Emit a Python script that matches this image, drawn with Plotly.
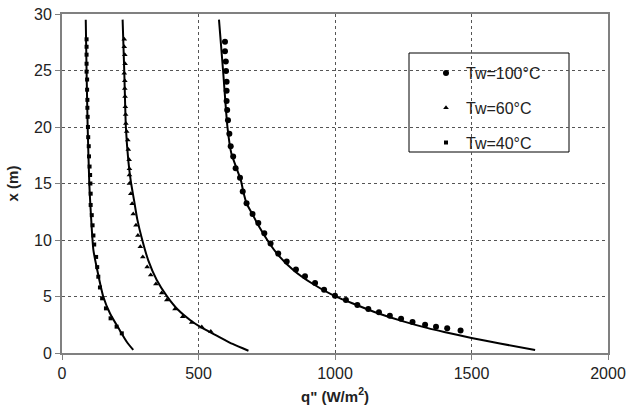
import plotly.graph_objects as go

# Theory curves (x in m, q'' in W/m2)
line100_x = [29.5, 25.0, 20.0, 17.7, 15.3, 14.3, 13.25, 12.4, 11.3, 9.85, 8.67, 7.35, 6.17, 5.1, 4.25, 3.5, 2.8, 2.2, 1.86, 1.33, 0.84, 0.27]
line100_q = [575, 590, 606, 620, 655, 664, 676, 695, 719, 756, 792, 847, 915, 994, 1079, 1160, 1250, 1340, 1400, 1500, 1604, 1733]

line60_x = [29.5, 25.0, 20.0, 17.0, 15.2, 13.5, 11.8, 10.0, 8.2, 6.46, 5.04, 3.8, 2.92, 2.33, 1.5, 0.8, 0.2]
line60_q = [222, 228, 234, 243, 252, 264, 276, 294, 316, 347, 384, 426, 469, 505, 570, 625, 683]

line40_x = [29.5, 25.0, 20.0, 15.0, 13.5, 11.0, 9.1, 7.35, 5.0, 3.5, 2.0, 1.0, 0.27]
line40_q = [87, 90, 94, 100, 103, 109, 115, 129, 151, 176, 212, 237, 261]

# Measured points
pts100_x = [27.55, 26.7, 25.8, 24.96, 24.0, 23.2, 22.3, 21.5, 20.6, 19.4, 18.3, 17.4, 16.35, 15.5, 14.3,
            13.25, 12.3, 11.5, 10.6, 9.7, 8.8, 8.1, 7.4, 6.8, 6.2, 5.6, 5.07, 4.7, 4.25, 3.9, 3.6,
            3.3, 3.04, 2.74, 2.5, 2.33, 2.18, 2.0]
pts100_q = [597, 597, 600, 601, 603, 603, 603, 605, 608, 613, 618, 627, 636, 652, 662,
            676, 698, 719, 741, 764, 792, 823, 857, 890, 927, 960, 1000, 1040, 1082, 1122, 1161,
            1201, 1242, 1284, 1330, 1370, 1411, 1460]

pts60_x = [27.76, 27.1, 26.4, 25.6, 24.75, 24.1, 23.4, 22.7, 21.8, 21.1, 20.3, 19.6, 18.85, 18.0,
           17.1, 16.3, 15.75, 15.0, 14.1, 13.2, 12.3, 11.3, 10.4, 9.4, 8.5, 7.6, 6.9, 6.1, 5.3,
           4.7, 3.9, 3.2, 2.7, 2.3, 1.9]
pts60_q = [228, 228, 230, 231, 228, 230, 230, 231, 232, 233, 234, 237, 241, 243,
           246, 247, 247, 247, 252, 257, 261, 271, 278, 287, 296, 312, 325, 344, 365,
           384, 414, 442, 475, 512, 545]

pts40_x = [27.76, 27.1, 26.4, 25.6, 24.9, 24.2, 23.3, 22.4, 21.7, 20.9, 20.0, 19.1, 18.3, 17.4,
           16.5, 15.75, 15.0, 14.1, 13.1, 12.2, 11.3, 10.4, 9.6, 8.5, 7.6, 6.75, 5.8, 4.84,
           3.95, 3.07, 2.33, 1.74]
pts40_q = [90, 90, 90, 90, 90, 92, 92, 93, 93, 94, 95, 96, 98, 99,
           101, 103, 104, 105, 105, 109, 112, 115, 118, 125, 129, 133, 139, 147,
           161, 178, 200, 219]

series_names = ["Tw=100°C", "Tw=60°C", "Tw=40°C"]

x_ticks = [0, 500, 1000, 1500, 2000]
y_ticks = [0, 5, 10, 15, 20, 25, 30]

FONT = "Arial, Liberation Sans, sans-serif"

fig = go.Figure()

for lq, lx in [(line100_q, line100_x), (line60_q, line60_x), (line40_q, line40_x)]:
    fig.add_trace(go.Scatter(x=lq, y=lx, mode="lines",
                             line=dict(color="black", width=2, shape="spline", smoothing=0.6),
                             showlegend=False, hoverinfo="skip"))

fig.add_trace(go.Scatter(x=pts100_q, y=pts100_x, mode="markers", name=series_names[0], legendgroup="a",
                         marker=dict(symbol="circle", size=6, color="black")))
fig.add_trace(go.Scatter(x=pts60_q, y=pts60_x, mode="markers", name=series_names[1], legendgroup="b",
                         marker=dict(symbol="triangle-up", size=5, color="black")))
fig.add_trace(go.Scatter(x=pts40_q, y=pts40_x, mode="markers", name=series_names[2], legendgroup="c",
                         marker=dict(symbol="square", size=4, color="black")))

axis_common = dict(
    showline=True, linecolor="#808080", linewidth=2, mirror=True,
    ticks="outside", ticklen=5, tickcolor="#808080", tickwidth=1,
    showgrid=True, gridcolor="#555555", gridwidth=1, griddash="dot",
    zeroline=False, automargin=False,
    tickfont=dict(family=FONT, size=16, color="#222222"),
)

fig.update_xaxes(range=[0, 2000], tickvals=x_ticks, **axis_common,
                 title=dict(text="<b>q\" (W/m<sup>2</sup>)</b>", font=dict(family=FONT, size=15, color="#222222"), standoff=10))
fig.update_yaxes(range=[0, 30], tickvals=y_ticks, **axis_common,
                 title=dict(text="<b>x (m)</b>", font=dict(family=FONT, size=15, color="#222222"), standoff=12))

fig.add_shape(type="rect", xref="paper", yref="paper", x0=(409-62)/546, x1=(569-62)/546,
              y0=(353-152)/339, y1=(353-53)/339, line=dict(color="black", width=1), fillcolor="white", layer="below")

fig.update_layout(
    width=628, height=412,
    margin=dict(l=62, r=20, t=14, b=59, autoexpand=False),
    plot_bgcolor="white", paper_bgcolor="white",
    font=dict(family=FONT, color="#222222"),
    legend=dict(x=(426-62)/546, y=(353-56)/339, xanchor="left", yanchor="top",
                bgcolor="rgba(0,0,0,0)", borderwidth=0, tracegroupgap=11,
                font=dict(family=FONT, size=16, color="#222222"), itemwidth=30),
)

fig.write_html("out.html")
